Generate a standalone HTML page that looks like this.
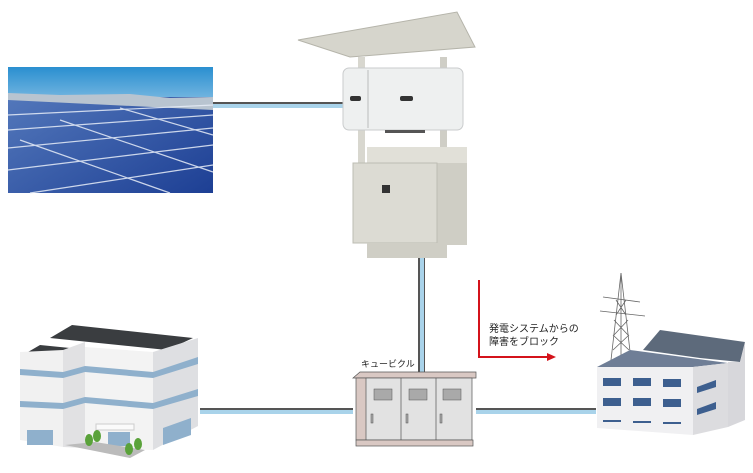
<!DOCTYPE html>
<html><head><meta charset="utf-8"><style>
html,body{margin:0;padding:0;background:#fff;}
svg{display:block}
text{font-family:"Liberation Sans","Noto Sans CJK JP",sans-serif;}
</style></head><body>
<svg width="753" height="473" viewBox="0 0 753 473" xmlns="http://www.w3.org/2000/svg">
<defs>
<linearGradient id="sky" x1="0" y1="0" x2="0" y2="1"><stop offset="0" stop-color="#2a8fd0"/><stop offset="1" stop-color="#6fb3df"/></linearGradient>
<linearGradient id="pan" x1="0" y1="0" x2="1" y2="1"><stop offset="0" stop-color="#5a7fc0"/><stop offset="1" stop-color="#1d3f94"/></linearGradient>
</defs>
<!-- solar photo -->
<rect x="8" y="67" width="205" height="126" fill="url(#pan)"/>
<rect x="8" y="67" width="205" height="30" fill="url(#sky)"/>
<polygon points="8,93 60,95 130,94 170,98 213,97 213,110 8,100" fill="#b8c4d0"/>
<g stroke="#e8eef8" stroke-width="1.2" opacity="0.85">
<line x1="8" y1="115" x2="213" y2="105"/><line x1="8" y1="130" x2="213" y2="115"/><line x1="8" y1="148" x2="213" y2="128"/><line x1="8" y1="170" x2="213" y2="145"/><line x1="30" y1="193" x2="213" y2="165"/>
<line x1="20" y1="140" x2="170" y2="193"/><line x1="60" y1="120" x2="213" y2="172"/><line x1="120" y1="108" x2="213" y2="135"/>
</g>
<!-- cables -->
<rect x="213" y="102" width="130" height="2" fill="#555"/><rect x="213" y="104" width="130" height="4" fill="#a9d3ea"/>
<rect x="418" y="255" width="2" height="117" fill="#555"/><rect x="420" y="255" width="4" height="117" fill="#a9d3ea"/><rect x="424" y="255" width="1" height="117" fill="#555"/>
<rect x="200" y="408" width="153" height="2" fill="#555"/><rect x="200" y="410" width="153" height="4" fill="#a9d3ea"/>
<rect x="476" y="408" width="120" height="2" fill="#555"/><rect x="476" y="410" width="120" height="4" fill="#a9d3ea"/>
<!-- power unit -->
<polygon points="298,40 457,12 475,47 350,57" fill="#d6d5cc" stroke="#b5b4aa"/>
<rect x="358" y="57" width="7" height="186" fill="#d8d7cf"/><rect x="440" y="57" width="7" height="186" fill="#cfcec6"/>
<rect x="343" y="68" width="120" height="62" rx="6" fill="#eef0f0" stroke="#c9cbcc"/>
<line x1="368" y1="70" x2="368" y2="128" stroke="#bbb"/>
<rect x="350" y="96" width="11" height="5" rx="2" fill="#333"/><rect x="400" y="96" width="13" height="5" rx="2" fill="#333"/>
<rect x="385" y="130" width="40" height="3" fill="#555"/>
<rect x="367" y="147" width="100" height="25" fill="#e1e0d8"/>
<rect x="437" y="163" width="30" height="82" fill="#cfcec5"/>
<rect x="353" y="163" width="84" height="80" fill="#dcdbd3" stroke="#bdbcb3"/>
<rect x="382" y="185" width="8" height="8" fill="#333"/>
<rect x="367" y="243" width="80" height="15" fill="#cfcec5"/>
<!-- red arrow -->
<polyline points="479,280 479,357 548,357" fill="none" stroke="#d4131b" stroke-width="2"/>
<polygon points="547,353 556,357 547,361" fill="#d4131b"/>
<text x="489" y="332" font-size="10" fill="#222">発電システムからの</text>
<text x="489" y="345" font-size="10" fill="#222">障害をブロック</text>
<text x="361" y="367" font-size="9" fill="#222">キュービクル</text>
<!-- cubicle -->
<polygon points="353,378 360,372 476,372 476,378" fill="#d9c8c3" stroke="#555" stroke-width="0.7"/>
<rect x="356" y="378" width="14" height="62" fill="#d9c8c3" stroke="#555" stroke-width="0.7"/>
<rect x="366" y="378" width="106" height="62" fill="#e2e2e2" stroke="#555" stroke-width="0.7"/>
<line x1="401" y1="378" x2="401" y2="440" stroke="#555" stroke-width="0.7"/><line x1="436" y1="378" x2="436" y2="440" stroke="#555" stroke-width="0.7"/>
<g fill="#a9a9a9" stroke="#555" stroke-width="0.5"><rect x="374" y="389" width="18" height="11"/><rect x="409" y="389" width="18" height="11"/><rect x="443" y="389" width="18" height="11"/>
<rect x="371" y="414" width="2" height="9"/><rect x="406" y="414" width="2" height="9"/><rect x="440" y="414" width="2" height="9"/></g>
<rect x="356" y="440" width="117" height="6" fill="#d9c8c3" stroke="#555" stroke-width="0.7"/>
<!-- left building -->
<polygon points="28,352 40,345 80,349 67,355" fill="#3a3d40"/>
<polygon points="50,338 72,325 193,338 167,350" fill="#3a3d40"/>
<polygon points="20,352 63,350 63,447 20,440" fill="#f1f1f1"/>
<polygon points="63,350 85,342 85,448 63,447" fill="#e1e1e3"/>
<polygon points="85,347 153,352 153,450 85,448" fill="#f3f3f3"/>
<polygon points="153,352 198,338 198,426 153,450" fill="#dedfe2"/>
<g fill="#8fb0cc"><polygon points="20,369 63,372 63,378 20,375"/><polygon points="63,372 85,366 85,372 63,378"/><polygon points="85,366 153,372 153,378 85,372"/><polygon points="153,372 198,357 198,364 153,378"/>
<polygon points="20,401 63,403 63,409 20,407"/><polygon points="63,403 85,397 85,403 63,409"/><polygon points="85,397 153,403 153,409 85,403"/><polygon points="153,403 198,389 198,396 153,409"/>
<rect x="27" y="430" width="26" height="15"/><rect x="108" y="432" width="22" height="14"/><polygon points="163,428 191,418 191,435 163,445"/></g>
<polygon points="65,445 95,442 145,450 130,458" fill="#bbb"/>
<rect x="96" y="424" width="38" height="6" fill="#fafafa" stroke="#ccc"/>
<g fill="#5aa23a"><ellipse cx="89" cy="440" rx="4" ry="6"/><ellipse cx="97" cy="436" rx="4" ry="6"/><ellipse cx="129" cy="449" rx="4" ry="6"/><ellipse cx="138" cy="444" rx="4" ry="6"/></g>
<!-- right: tower -->
<g stroke="#666" stroke-width="0.8" fill="none">
<polyline points="611,360 621,273 631,360"/><line x1="621" y1="273" x2="621" y2="360"/>
<line x1="603" y1="297" x2="640" y2="302"/><line x1="600" y1="311" x2="645" y2="316"/>
<path d="M614,320 L628,335 M628,320 L614,335 M613,335 L629,350 M629,335 L613,350 M616,300 L626,315 M626,300 L616,315"/></g>
<!-- factory -->
<polygon points="643,350 660,330 745,342 740,362 700,358" fill="#5d6a7b"/>
<polygon points="728,362 740,362 745,342 745,420 728,427" fill="#d7d7db"/>
<polygon points="597,367 630,350 728,363 693,367" fill="#6f7e96"/>
<polygon points="597,367 693,367 693,435 597,428" fill="#f0f0f2"/>
<polygon points="693,367 728,363 728,427 693,435" fill="#dcdcdf"/>
<g fill="#3d5f8f"><rect x="603" y="378" width="18" height="8"/><rect x="633" y="378" width="18" height="8"/><rect x="663" y="379" width="18" height="8"/>
<rect x="603" y="398" width="18" height="8"/><rect x="633" y="398" width="18" height="8"/><rect x="663" y="399" width="18" height="8"/>
<rect x="603" y="420" width="18" height="2"/><rect x="633" y="421" width="18" height="2"/><rect x="663" y="422" width="18" height="2"/>
<polygon points="697,387 716,380 716,387 697,393"/><polygon points="697,409 716,402 716,409 697,415"/></g>
</svg>
</body></html>
